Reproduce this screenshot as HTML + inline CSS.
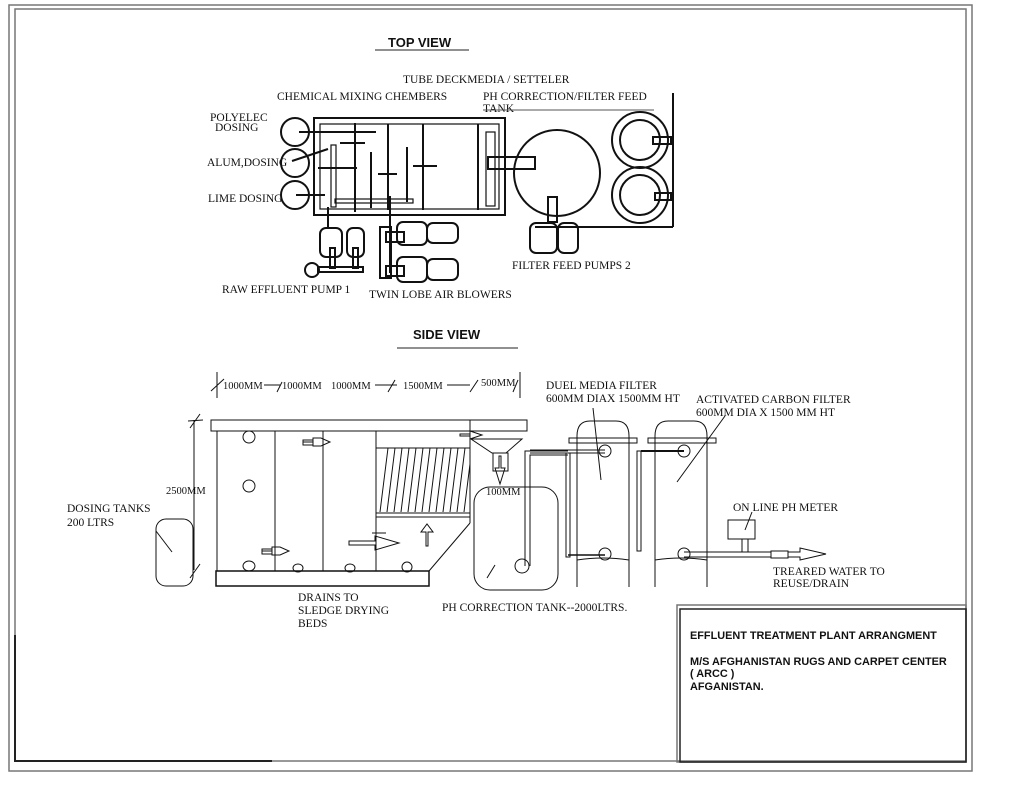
<!DOCTYPE html>
<html><head><meta charset="utf-8"><style>
html,body{margin:0;padding:0;background:#fff;}
svg{display:block;}
text{font-family:"Liberation Serif",serif;font-size:11.5px;fill:#111;}
.b{font-family:"Liberation Sans",sans-serif;font-weight:bold;}
.t{font-size:10.9px;}
.h{font-size:13px;}
.d{font-size:10.5px;}
</style></head><body>
<svg width="1024" height="810" viewBox="0 0 1024 810" xmlns="http://www.w3.org/2000/svg">
<g fill="none" stroke="#777" stroke-width="1.5">
<rect x="9" y="5" width="963" height="766"/>
<rect x="15" y="9" width="951" height="752"/>
</g>
<path d="M15 635 V761 H272" stroke="#222" stroke-width="2" fill="none"/>
<rect x="677" y="605" width="289" height="157" fill="none" stroke="#777" stroke-width="1.5"/>
<rect x="680" y="609" width="286" height="153" fill="none" stroke="#222" stroke-width="1.5"/>
<text class="b t" x="690" y="639">EFFLUENT TREATMENT PLANT ARRANGMENT</text>
<text class="b t" x="690" y="665">M/S AFGHANISTAN RUGS AND CARPET CENTER</text>
<text class="b t" x="690" y="677">( ARCC )</text>
<text class="b t" x="690" y="690">AFGANISTAN.</text>

<!-- TOP VIEW -->
<text class="b h" x="388" y="47">TOP VIEW</text>
<line x1="375" y1="50" x2="469" y2="50" stroke="#222"/>
<text x="403" y="83">TUBE DECKMEDIA / SETTELER</text>
<text x="277" y="100">CHEMICAL MIXING CHEMBERS</text>
<text x="483" y="100">PH CORRECTION/FILTER FEED</text>
<text x="483" y="112">TANK</text>
<line x1="483" y1="110" x2="654" y2="110" stroke="#555"/>
<text x="210" y="121">POLYELEC</text>
<text x="215" y="131">DOSING</text>
<text x="207" y="166">ALUM,DOSING</text>
<text x="208" y="202">LIME DOSING</text>
<g fill="none" stroke="#111" stroke-width="2">
<circle cx="295" cy="132" r="14"/>
<circle cx="295" cy="163" r="14"/>
<circle cx="295" cy="195" r="14"/>
<rect x="314" y="118" width="191" height="97"/>
</g>
<g fill="none" stroke="#111" stroke-width="1.2">
<rect x="320" y="124" width="179" height="85"/>
<rect x="486" y="132" width="9" height="74"/>
<rect x="331" y="145" width="5" height="62"/>
<rect x="335" y="199" width="78" height="4"/>
</g>
<g stroke="#111" stroke-width="2" fill="none">
<line x1="299" y1="132" x2="376" y2="132"/>
<line x1="355" y1="123" x2="355" y2="212"/>
<line x1="340" y1="143" x2="365" y2="143"/>
<line x1="292" y1="161" x2="328" y2="149"/>
<line x1="318" y1="168" x2="357" y2="168"/>
<line x1="371" y1="152" x2="371" y2="208"/>
<line x1="378" y1="174" x2="397" y2="174"/>
<line x1="388" y1="124" x2="388" y2="210"/>
<line x1="407" y1="147" x2="407" y2="202"/>
<line x1="413" y1="166" x2="437" y2="166"/>
<line x1="423" y1="124" x2="423" y2="210"/>
<line x1="478" y1="124" x2="478" y2="210"/>
<line x1="296" y1="195" x2="325" y2="195"/>
<line x1="328" y1="207" x2="328" y2="228"/>
<line x1="390" y1="196" x2="390" y2="273"/>
<circle cx="557" cy="173" r="43"/>
<rect x="488" y="157" width="47" height="12"/>
<rect x="548" y="197" width="9" height="25"/>
<circle cx="640" cy="140" r="28"/><circle cx="640" cy="140" r="20"/>
<circle cx="640" cy="195" r="28"/><circle cx="640" cy="195" r="20"/>
<rect x="653" y="137" width="18" height="7"/>
<rect x="655" y="193" width="16" height="7"/>
<line x1="673" y1="93" x2="673" y2="227"/>
<line x1="535" y1="227" x2="673" y2="227"/>
<rect x="530" y="223" width="27" height="30" rx="6"/>
<rect x="558" y="223" width="20" height="30" rx="6"/>
<rect x="320" y="228" width="22" height="29" rx="6"/>
<rect x="347" y="228" width="17" height="29" rx="6"/>
<circle cx="312" cy="270" r="7"/>
<rect x="318" y="267" width="45" height="5"/>
<rect x="330" y="248" width="5" height="20"/>
<rect x="353" y="248" width="5" height="20"/>
<rect x="380" y="227" width="11" height="51"/>
<rect x="397" y="222" width="30" height="23" rx="6"/>
<rect x="427" y="223" width="31" height="20" rx="6"/>
<rect x="386" y="232" width="18" height="10"/>
<rect x="397" y="257" width="30" height="25" rx="6"/>
<rect x="427" y="259" width="31" height="21" rx="6"/>
<rect x="386" y="266" width="18" height="10"/>
</g>
<text x="222" y="293">RAW EFFLUENT PUMP 1</text>
<text x="369" y="298">TWIN LOBE AIR BLOWERS</text>
<text x="512" y="269">FILTER FEED PUMPS 2</text>

<!-- SIDE VIEW -->
<text class="b h" x="413" y="339">SIDE VIEW</text>
<line x1="397" y1="348" x2="518" y2="348" stroke="#222"/>
<g stroke="#111" stroke-width="1" fill="none">
<line x1="217" y1="372" x2="217" y2="398"/>
<line x1="520" y1="372" x2="520" y2="398"/>
<line x1="211" y1="391" x2="224" y2="379"/>
<line x1="264" y1="385" x2="280" y2="385"/><line x1="277" y1="392" x2="282" y2="382"/>
<line x1="375" y1="385" x2="397" y2="385"/><line x1="388" y1="392" x2="395" y2="380"/>
<line x1="447" y1="385" x2="470" y2="385"/><line x1="470" y1="392" x2="478" y2="380"/>
<line x1="513" y1="392" x2="518" y2="380"/>
<line x1="194" y1="420" x2="194" y2="570"/>
<line x1="188" y1="421" x2="203" y2="420"/><line x1="190" y1="428" x2="200" y2="414"/>
<line x1="190" y1="578" x2="200" y2="564"/>
<rect x="211" y="420" width="316" height="11"/>
<line x1="217" y1="431" x2="217" y2="571"/>
<line x1="275" y1="431" x2="275" y2="571"/>
<line x1="323" y1="431" x2="323" y2="571"/>
<line x1="376" y1="431" x2="376" y2="571"/>
<line x1="470" y1="420" x2="470" y2="523"/>
<rect x="216" y="571" width="213" height="15" stroke-width="1.5"/>
<line x1="470" y1="523" x2="429" y2="571"/>
<line x1="376" y1="448" x2="470" y2="448"/>
<rect x="376" y="513" width="94" height="4"/>
<path d="M380 512 L388 448 M387 512 L395 448 M394 512 L402 448 M401 512 L409 448 M408 512 L416 448 M415 512 L423 448 M422 512 L430 448 M429 512 L437 448 M436 512 L444 448 M443 512 L451 448 M450 512 L458 448 M457 512 L465 448 M464 512 L470 464"/>
<circle cx="249" cy="437" r="6"/><circle cx="249" cy="486" r="6"/>
<ellipse cx="249" cy="566" rx="6" ry="5"/><ellipse cx="298" cy="568" rx="5" ry="4"/>
<ellipse cx="350" cy="568" rx="5" ry="4"/><ellipse cx="407" cy="567" rx="5" ry="5"/>
<path d="M303 442 h10 v-4 h8 l9 4 l-9 4 h-8 v-4"/><rect x="303" y="440" width="10" height="5"/>
<path d="M262 551 h10 v-4 h8 l9 4 l-9 4 h-8 v-4"/><rect x="262" y="549" width="10" height="5"/>
<path d="M349 541 h26 v-5 l24 7 l-24 7 v-5 h-26 z"/>
<line x1="372" y1="533" x2="386" y2="533"/>
<path d="M426 546 v-14 h-5 l6 -8 l6 8 h-5 v14 z"/>
<path d="M460 434 h10 v-3 l12 4 l-12 4 v-3 h-10 z"/>
<path d="M471 439 L522 439 L506 453 L492 453 Z"/>
<rect x="493" y="453" width="15" height="18"/>
<path d="M499 456 v12 h-4 l5 16 l5 -16 h-4 v-12 z"/>
<rect x="474" y="487" width="84" height="103" rx="16"/>
<path d="M525 566 V451 H568 M530 566 V455 H568"/>
<circle cx="522" cy="566" r="7"/>
<line x1="487" y1="578" x2="495" y2="565"/>
<rect x="156" y="519" width="37" height="67" rx="10"/>
<line x1="156" y1="531" x2="172" y2="552"/>
<!-- filters -->
<path d="M577 557 V436 Q577 421 590 421 H616 Q629 421 629 436 V557"/>
<path d="M577 557 V587 M629 557 V587 M577 560 Q603 556 629 560"/>
<rect x="569" y="438" width="68" height="5"/>
<path d="M655 557 V436 Q655 421 668 421 H694 Q707 421 707 436 V557"/>
<path d="M655 557 V587 M707 557 V587 M655 560 Q681 556 707 560"/>
<rect x="648" y="438" width="68" height="5"/>
<line x1="530" y1="450" x2="605" y2="450"/><line x1="530" y1="453" x2="605" y2="453"/>
<circle cx="605" cy="451" r="6"/><circle cx="605" cy="554" r="6"/>
<circle cx="684" cy="451" r="6"/><circle cx="684" cy="554" r="6"/>
<rect x="566" y="453" width="4" height="104"/>
<rect x="637" y="451" width="4" height="100"/>
<line x1="641" y1="451" x2="684" y2="451" stroke-width="2"/>
<line x1="568" y1="555" x2="605" y2="555" stroke-width="1.5"/>
<line x1="684" y1="552" x2="771" y2="552"/><line x1="684" y1="557" x2="771" y2="557"/>
<rect x="771" y="551" width="17" height="7"/>
<path d="M788 552 H800 V548 L826 554 L800 560 V557 H788"/>
<rect x="728" y="520" width="27" height="19"/>
<rect x="742" y="539" width="6" height="13"/>
<line x1="593" y1="408" x2="601" y2="480"/>
<line x1="725" y1="416" x2="677" y2="482"/>
<line x1="752" y1="512" x2="745" y2="530"/>
</g>
<text class="d" x="223" y="389">1000MM</text>
<text class="d" x="282" y="389">1000MM</text>
<text class="d" x="331" y="389">1000MM</text>
<text class="d" x="403" y="389">1500MM</text>
<text class="d" x="481" y="386">500MM</text>
<text class="d" x="166" y="494">2500MM</text>
<text class="d" x="486" y="495">100MM</text>
<text x="67" y="512">DOSING TANKS</text>
<text x="67" y="526">200 LTRS</text>
<text x="546" y="389">DUEL MEDIA FILTER</text>
<text x="546" y="402">600MM DIAX 1500MM HT</text>
<text x="696" y="403">ACTIVATED CARBON FILTER</text>
<text x="696" y="416">600MM DIA X 1500 MM HT</text>
<text x="733" y="511">ON LINE PH METER</text>
<text x="773" y="575">TREARED WATER TO</text>
<text x="773" y="587">REUSE/DRAIN</text>
<text x="298" y="601">DRAINS TO</text>
<text x="298" y="614">SLEDGE DRYING</text>
<text x="298" y="627">BEDS</text>
<text x="442" y="611">PH CORRECTION TANK--2000LTRS.</text>
</svg>
</body></html>
